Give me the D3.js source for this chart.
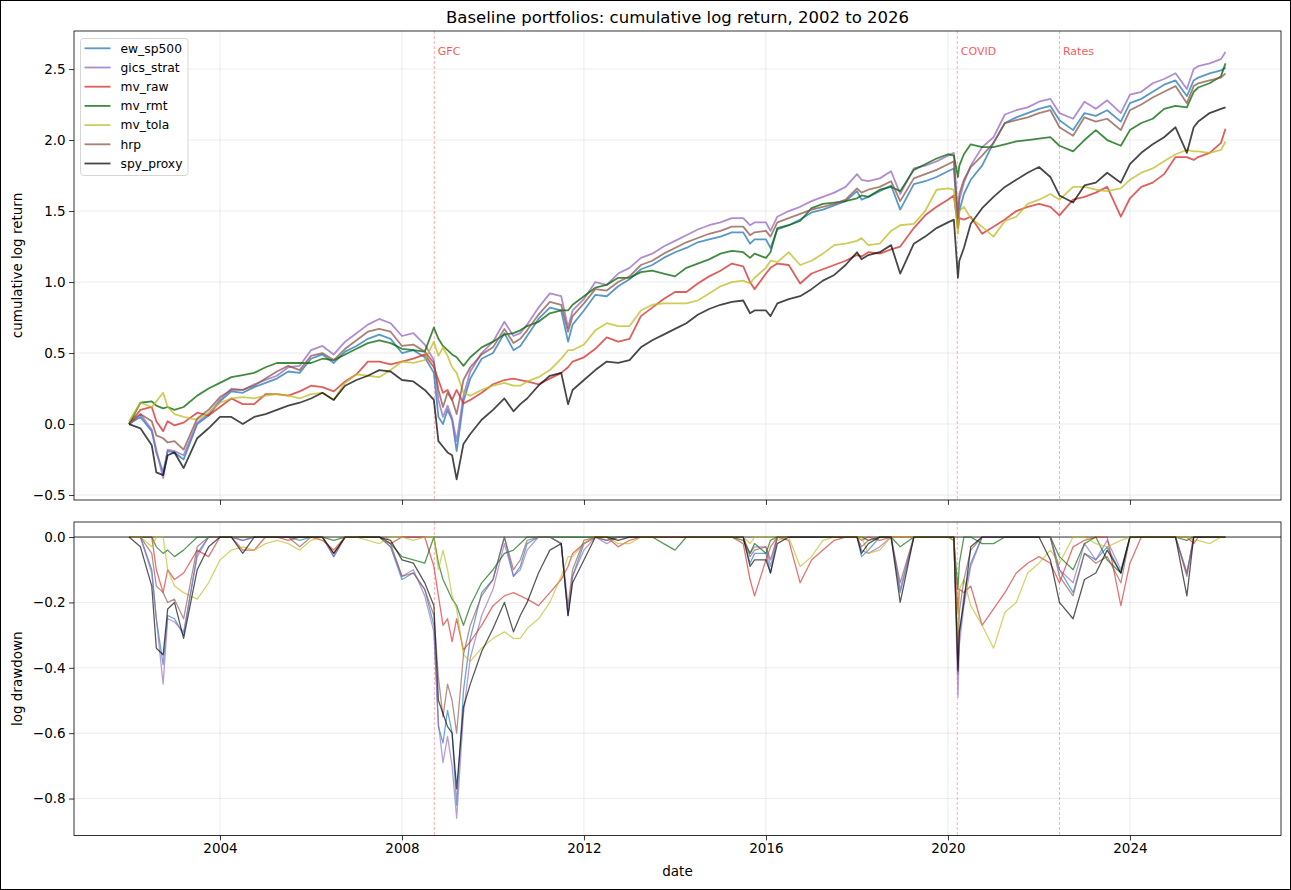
<!DOCTYPE html>
<html><head><meta charset="utf-8">
<script src="https://cdn.jsdelivr.net/npm/d3@7"></script>
<style>
body{margin:0;background:#fff;}
svg{display:block;font-family:"DejaVu Sans",sans-serif;}
</style></head><body>
<svg id="chart" width="1291" height="890"></svg>
<script>
// ---- data (decimal years; cumulative log return) ----
const dates = [
 2002.0,2002.25,2002.5,2002.6,2002.75,2002.85,2003.0,2003.2,2003.5,2003.75,
 2004.0,2004.25,2004.5,2004.75,2005.0,2005.25,2005.5,2005.75,
 2006.0,2006.25,2006.5,2006.75,2007.0,2007.25,2007.5,2007.75,
 2008.0,2008.25,2008.5,2008.7,2008.8,2008.9,2009.0,2009.1,2009.2,2009.35,2009.5,2009.75,
 2010.0,2010.25,2010.45,2010.6,2010.75,2011.0,2011.25,2011.5,2011.65,2011.75,
 2012.0,2012.25,2012.5,2012.75,2013.0,2013.25,2013.5,2013.75,
 2014.0,2014.25,2014.5,2014.75,2015.0,2015.25,2015.5,2015.65,2015.75,
 2016.0,2016.1,2016.25,2016.5,2016.75,2017.0,2017.25,2017.5,2017.75,
 2018.0,2018.1,2018.25,2018.5,2018.75,2018.95,2019.25,2019.5,2019.75,
 2020.0,2020.13,2020.22,2020.25,2020.35,2020.5,2020.75,
 2021.0,2021.25,2021.5,2021.75,2022.0,2022.25,2022.45,2022.75,
 2023.0,2023.25,2023.5,2023.8,2024.0,2024.25,2024.5,2024.75,
 2025.0,2025.25,2025.4,2025.5,2025.75,2026.0,2026.1
];
const ew_sp500 = [
 0.00,0.05,-0.05,-0.20,-0.34,-0.19,-0.20,-0.25,0.00,0.06,
 0.16,0.23,0.22,0.26,0.29,0.32,0.37,0.36,
 0.46,0.49,0.43,0.51,0.55,0.60,0.63,0.60,
 0.50,0.52,0.47,0.36,0.05,0.00,0.10,0.03,-0.19,0.16,0.32,0.46,
 0.50,0.64,0.52,0.55,0.62,0.74,0.82,0.80,0.58,0.70,
 0.80,0.91,0.90,0.97,1.02,1.09,1.12,1.17,
 1.21,1.24,1.28,1.30,1.32,1.35,1.35,1.27,1.30,
 1.30,1.24,1.37,1.40,1.44,1.49,1.51,1.54,1.57,
 1.64,1.58,1.60,1.64,1.68,1.51,1.69,1.71,1.74,
 1.78,1.80,1.38,1.50,1.62,1.72,1.82,
 1.98,2.12,2.16,2.19,2.22,2.24,2.14,2.07,
 2.19,2.17,2.21,2.13,2.26,2.29,2.34,2.39,
 2.42,2.31,2.42,2.44,2.47,2.49,2.51
];
const gics_strat = [
 0.00,0.07,-0.04,-0.18,-0.38,-0.18,-0.19,-0.22,0.01,0.07,
 0.17,0.25,0.24,0.28,0.31,0.34,0.40,0.41,
 0.52,0.55,0.49,0.58,0.64,0.70,0.74,0.71,
 0.62,0.64,0.56,0.45,0.17,0.05,0.13,0.04,-0.12,0.20,0.37,0.50,
 0.58,0.72,0.62,0.64,0.70,0.82,0.92,0.90,0.68,0.80,
 0.88,1.00,0.98,1.06,1.10,1.17,1.20,1.25,
 1.29,1.33,1.37,1.40,1.42,1.45,1.45,1.40,1.42,
 1.42,1.36,1.46,1.50,1.53,1.57,1.60,1.63,1.67,
 1.76,1.72,1.71,1.73,1.78,1.62,1.80,1.82,1.85,
 1.89,1.91,1.42,1.58,1.70,1.82,1.95,
 2.02,2.18,2.21,2.23,2.27,2.29,2.19,2.15,
 2.27,2.22,2.28,2.19,2.32,2.34,2.40,2.43,
 2.47,2.36,2.50,2.52,2.54,2.57,2.62
];
const mv_raw = [
 0.00,0.10,0.12,0.02,-0.05,0.02,-0.01,0.01,0.08,0.06,
 0.12,0.18,0.14,0.14,0.21,0.21,0.20,0.23,
 0.27,0.26,0.23,0.30,0.35,0.44,0.44,0.42,
 0.44,0.46,0.49,0.40,0.31,0.22,0.24,0.17,0.24,0.145,0.17,0.22,
 0.28,0.31,0.32,0.31,0.30,0.28,0.32,0.36,0.40,0.44,
 0.47,0.53,0.61,0.58,0.60,0.76,0.82,0.88,
 0.93,0.93,0.99,1.04,1.08,1.13,1.11,1.00,0.95,
 1.06,1.10,1.13,1.12,0.99,1.06,1.09,1.12,1.15,
 1.19,1.18,1.21,1.20,1.23,1.25,1.38,1.47,1.53,
 1.58,1.61,1.38,1.45,1.44,1.46,1.34,
 1.39,1.44,1.50,1.53,1.55,1.53,1.47,1.58,
 1.60,1.63,1.67,1.46,1.59,1.67,1.70,1.76,
 1.88,1.88,1.86,1.88,1.91,1.98,2.08
];
const mv_rmt = [
 0.00,0.15,0.16,0.13,0.11,0.12,0.10,0.12,0.20,0.25,
 0.29,0.33,0.345,0.36,0.40,0.43,0.43,0.43,
 0.43,0.46,0.45,0.49,0.53,0.57,0.59,0.57,
 0.53,0.52,0.51,0.68,0.60,0.55,0.52,0.49,0.47,0.41,0.47,0.54,
 0.58,0.63,0.64,0.66,0.69,0.72,0.78,0.80,0.80,0.84,
 0.90,0.96,0.98,1.03,1.03,1.07,1.08,1.06,
 1.04,1.10,1.13,1.16,1.20,1.22,1.21,1.17,1.20,
 1.17,1.21,1.38,1.40,1.43,1.52,1.55,1.56,1.57,
 1.59,1.61,1.60,1.65,1.67,1.64,1.79,1.83,1.87,
 1.90,1.89,1.74,1.82,1.90,1.97,1.95,
 1.95,1.97,1.99,2.00,2.01,2.02,1.96,1.92,
 2.00,2.07,2.00,1.96,2.07,2.12,2.15,2.22,
 2.24,2.23,2.34,2.37,2.40,2.45,2.54
];
const mv_tola = [
 0.02,0.15,0.12,0.16,0.22,0.12,0.07,0.05,0.03,0.08,
 0.15,0.18,0.19,0.18,0.20,0.21,0.20,0.18,
 0.21,0.22,0.17,0.29,0.35,0.34,0.33,0.38,
 0.44,0.43,0.45,0.58,0.48,0.54,0.48,0.40,0.36,0.22,0.20,0.24,
 0.27,0.29,0.27,0.27,0.30,0.33,0.38,0.46,0.52,0.52,
 0.56,0.66,0.71,0.69,0.69,0.80,0.84,0.85,
 0.85,0.85,0.87,0.92,0.97,1.00,1.01,0.99,1.03,
 1.10,1.15,1.14,1.21,1.12,1.15,1.20,1.26,1.27,
 1.29,1.31,1.26,1.27,1.36,1.40,1.41,1.50,1.65,
 1.66,1.65,1.34,1.50,1.53,1.45,1.39,
 1.32,1.43,1.46,1.55,1.58,1.62,1.58,1.67,
 1.67,1.65,1.64,1.66,1.72,1.77,1.80,1.85,
 1.90,1.93,1.92,1.92,1.91,1.93,1.99
];
const hrp = [
 0.00,0.07,0.02,-0.08,-0.10,-0.13,-0.12,-0.18,0.04,0.10,
 0.19,0.24,0.24,0.27,0.32,0.37,0.41,0.38,
 0.48,0.50,0.45,0.53,0.59,0.65,0.67,0.65,
 0.55,0.56,0.51,0.43,0.24,0.12,0.22,0.17,0.07,0.31,0.40,0.49,
 0.54,0.67,0.57,0.60,0.66,0.77,0.86,0.84,0.65,0.76,
 0.85,0.95,0.94,1.00,1.04,1.12,1.15,1.20,
 1.24,1.28,1.31,1.34,1.36,1.39,1.39,1.33,1.35,
 1.36,1.32,1.42,1.45,1.48,1.51,1.53,1.55,1.58,
 1.66,1.63,1.65,1.67,1.71,1.57,1.73,1.76,1.79,
 1.83,1.85,1.45,1.62,1.72,1.81,1.89,
 1.98,2.12,2.14,2.16,2.19,2.21,2.09,2.03,
 2.16,2.13,2.15,2.07,2.21,2.25,2.30,2.34,
 2.38,2.26,2.38,2.40,2.42,2.44,2.47
];
const spy_proxy = [
 0.00,-0.03,-0.15,-0.34,-0.36,-0.22,-0.20,-0.31,-0.10,-0.03,
 0.05,0.05,0.00,0.05,0.07,0.10,0.13,0.15,
 0.18,0.22,0.17,0.27,0.31,0.34,0.38,0.37,
 0.31,0.30,0.24,0.17,-0.12,-0.16,-0.20,-0.22,-0.39,-0.14,-0.07,0.03,
 0.10,0.18,0.09,0.14,0.18,0.27,0.34,0.36,0.14,0.24,
 0.31,0.38,0.44,0.43,0.45,0.54,0.59,0.63,
 0.67,0.71,0.77,0.81,0.84,0.86,0.87,0.78,0.80,
 0.80,0.76,0.85,0.88,0.90,0.95,1.01,1.05,1.12,
 1.21,1.16,1.19,1.21,1.26,1.06,1.27,1.32,1.38,
 1.42,1.44,1.03,1.15,1.24,1.41,1.52,
 1.60,1.67,1.72,1.77,1.81,1.74,1.61,1.56,
 1.68,1.70,1.77,1.70,1.83,1.91,1.97,2.02,
 2.09,1.91,2.09,2.13,2.19,2.22,2.23
];
const seriesNames = ["ew_sp500","gics_strat","mv_raw","mv_rmt","mv_tola","hrp","spy_proxy"];
const seriesValues = [ew_sp500, gics_strat, mv_raw, mv_rmt, mv_tola, hrp, spy_proxy];
const seriesColors = ["#1f77b4","#9467bd","#d62728","#006400","#bcbd22","#8c564b","#000000"];
const xTickYears = [2004, 2008, 2012, 2016, 2020, 2024];
const yTicksTop = [-0.5, 0.0, 0.5, 1.0, 1.5, 2.0, 2.5];
const yTicksBottom = [-0.8, -0.6, -0.4, -0.2, 0.0];
const eventLabels = ["GFC", "COVID", "Rates"];
const eventDates = [2008.71, 2020.205, 2022.45];

// ---- helpers ----
function toDate(y){
  const yr = Math.floor(y), a = Date.UTC(yr,0,1), b = Date.UTC(yr+1,0,1);
  return new Date(a + (y-yr)*(b-a));
}
const minus = s => s.replace("-", "\u2212");

const svg = d3.select("#chart");
svg.append("rect").attr("x",0.5).attr("y",0.5).attr("width",1290).attr("height",889)
  .attr("fill","#fff").attr("stroke","#000").attr("stroke-width",1);

const L = 74, R = 1281;
const top1 = 31, bot1 = 500, top2 = 522, bot2 = 835.5;
const x = d3.scaleUtc().domain([toDate(2000.79), toDate(2027.32)]).range([L, R]);
const yT = d3.scaleLinear().domain([-0.535, 2.768]).range([bot1, top1]);
const yB = d3.scaleLinear().domain([-0.913, 0.046]).range([bot2, top2]);

const defs = svg.append("defs");
defs.append("clipPath").attr("id","clipT").append("rect").attr("x",L).attr("y",top1).attr("width",R-L).attr("height",bot1-top1);
defs.append("clipPath").attr("id","clipB").append("rect").attr("x",L).attr("y",top2).attr("width",R-L).attr("height",bot2-top2);

const FS = 13.5;

function panel(yScale, yTicks, yTop, yBot, showXLabels){
  const g = svg.append("g");
  g.append("g").selectAll("line").data(xTickYears).join("line")
    .attr("x1",d=>x(toDate(d))).attr("x2",d=>x(toDate(d))).attr("y1",yTop).attr("y2",yBot)
    .attr("stroke","#b0b0b0").attr("stroke-opacity",0.3).attr("stroke-width",0.8);
  g.append("g").selectAll("line").data(yTicks).join("line")
    .attr("x1",L).attr("x2",R).attr("y1",d=>yScale(d)).attr("y2",d=>yScale(d))
    .attr("stroke","#b0b0b0").attr("stroke-opacity",0.3).attr("stroke-width",0.8);
  const ax = d3.axisBottom(x).tickValues(xTickYears.map(toDate))
    .tickFormat(showXLabels ? d3.utcFormat("%Y") : () => "")
    .tickSize(4.9).tickPadding(3.5).tickSizeOuter(0);
  const gx = g.append("g").attr("transform",`translate(0,${yBot})`).call(ax);
  const ay = d3.axisLeft(yScale).tickValues(yTicks).tickFormat(d => minus(d3.format(".1f")(d)))
    .tickSize(4.9).tickPadding(3.5).tickSizeOuter(0);
  const gy = g.append("g").attr("transform",`translate(${L},0)`).call(ay);
  [gx, gy].forEach(a => {
    a.select(".domain").remove();
    a.selectAll("line").attr("stroke","#000").attr("stroke-width",0.8);
    a.selectAll("text").attr("font-size",FS).attr("fill","#000").attr("font-family","DejaVu Sans");
  });
  return g;
}

panel(yT, yTicksTop, top1, bot1, false);
panel(yB, yTicksBottom, top2, bot2, true);

// event lines
[[top1,bot1],[top2,bot2]].forEach(([a,b]) => {
  svg.append("g").selectAll("line").data(eventDates).join("line")
    .attr("x1",d=>x(toDate(d))).attr("x2",d=>x(toDate(d))).attr("y1",a).attr("y2",b)
    .attr("stroke","#ff0000").attr("stroke-opacity",0.4).attr("stroke-width",0.8)
    .attr("stroke-dasharray","3,2");
});
svg.append("g").selectAll("text").data(eventDates).join("text")
  .attr("x",d=>x(toDate(d))+3.5).attr("y",55)
  .attr("font-size",11).attr("fill","#ff0000").attr("fill-opacity",0.7)
  .text((d,i)=>eventLabels[i]);

// zero line in drawdown panel
svg.append("line").attr("x1",L).attr("x2",R).attr("y1",yB(0)).attr("y2",yB(0))
  .attr("stroke","#000").attr("stroke-width",0.8);

// series
const dd = seriesValues.map(vals => { let m = -Infinity; return vals.map(v => { m = Math.max(m, v); return v - m; }); });
const lineT = d3.line().x(d=>x(d[0])).y(d=>yT(d[1]));
const lineB = d3.line().x(d=>x(d[0])).y(d=>yB(d[1]));
const gl = svg.append("g").attr("clip-path","url(#clipT)");
const gd = svg.append("g").attr("clip-path","url(#clipB)");
seriesNames.forEach((name,i) => {
  const pts = dates.map((t,j) => [toDate(t), seriesValues[i][j]]);
  const ptsD = dates.map((t,j) => [toDate(t), dd[i][j]]);
  gl.append("path").attr("d", lineT(pts)).attr("fill","none")
    .attr("stroke",seriesColors[i]).attr("stroke-opacity", i===6?0.72:0.75).attr("stroke-width",1.8)
    .attr("stroke-linejoin","round");
  gd.append("path").attr("d", lineB(ptsD)).attr("fill","none")
    .attr("stroke",seriesColors[i]).attr("stroke-opacity",0.65).attr("stroke-width",1.3)
    .attr("stroke-linejoin","round");
});

// frames
[[top1,bot1],[top2,bot2]].forEach(([a,b]) => {
  svg.append("rect").attr("x",L).attr("y",a).attr("width",R-L).attr("height",b-a)
    .attr("fill","none").attr("stroke","#000").attr("stroke-width",0.8);
});

// legend
const lg = svg.append("g");
lg.append("rect").attr("x",80.5).attr("y",38.5).attr("width",107.5).attr("height",137).attr("rx",3)
  .attr("fill","#fff").attr("fill-opacity",0.8).attr("stroke","#cccccc").attr("stroke-width",0.8);
seriesNames.forEach((name,i) => {
  const yy = 48.3 + i*19.2;
  lg.append("line").attr("x1",84.5).attr("x2",110.5).attr("y1",yy).attr("y2",yy)
    .attr("stroke",seriesColors[i]).attr("stroke-opacity", i===6?0.72:0.75).attr("stroke-width",1.8);
  lg.append("text").attr("x",120.5).attr("y",yy+4.3).attr("font-size",12.3).attr("fill","#000").text(name);
});

// titles
svg.append("text").attr("x",677.5).attr("y",23).attr("text-anchor","middle").attr("font-size",16.5)
  .attr("fill","#000").text("Baseline portfolios: cumulative log return, 2002 to 2026");
svg.append("text").attr("x",677.5).attr("y",876).attr("text-anchor","middle").attr("font-size",FS)
  .attr("fill","#000").text("date");
svg.append("text").attr("transform",`translate(22,${(top1+bot1)/2}) rotate(-90)`).attr("text-anchor","middle")
  .attr("font-size",FS).attr("fill","#000").text("cumulative log return");
svg.append("text").attr("transform",`translate(22,${(top2+bot2)/2}) rotate(-90)`).attr("text-anchor","middle")
  .attr("font-size",FS).attr("fill","#000").text("log drawdown");
</script>
</body></html>
